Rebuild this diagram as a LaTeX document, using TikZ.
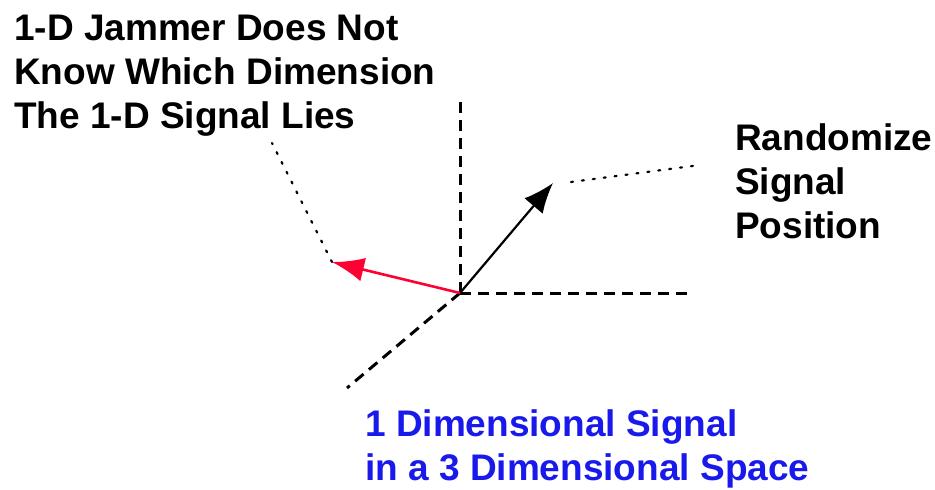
\documentclass[tikz,border=0pt]{standalone}
\usepackage{fontspec}
\setmainfont{Liberation Sans}
\usetikzlibrary{arrows.meta}
\definecolor{jamred}{RGB}{255,0,51}
\definecolor{sigblue}{RGB}{25,25,235}

\begin{document}
\begin{tikzpicture}[x=1pt,y=-1pt,
  axis/.style={line width=3pt, dash pattern=on 11pt off 7pt},
  hint/.style={line width=2.2pt, dash pattern=on 2pt off 9pt, line cap=round},
  label/.style={align=left, inner sep=0pt, anchor=north west, font=\fontsize{37}{44}\selectfont\bfseries}]
\useasboundingbox (0,0) rectangle (935,490);
% axes of the 3-D space
\coordinate (o) at (460,293);
\coordinate (up) at (460,100);
\coordinate (right) at (688,293);
\coordinate (front) at (347,388);
\draw [axis] (o) -- (up);
\draw [axis] (o) -- (right);
\draw [axis] (o) -- (front);
% signal and jammer vectors
\coordinate (sig) at (553,183);
\coordinate (jam) at (332,262);
\draw [line width=2.2pt, -{Latex[length=30pt,width=24pt]}] (o) -- (sig);
\draw [jamred, line width=2.6pt, -{Latex[length=32pt,width=24pt]}] (o) -- (jam);
% labels
\node (jamtxt) [label] at (14,15) {1-D Jammer Does Not\\Know Which Dimension\\The 1-D Signal Lies};
\node (randtxt) [label] at (735,123) {Randomize\\Signal\\Position};
\node (sigtxt) [label, text=sigblue] at (365,409) {1 Dimensional Signal\\in a 3 Dimensional Space};
\coordinate (jamend) at (272,143);
\coordinate (randend) at (700,165);
\coordinate (sigtip) at (571,182);
\draw [hint] (jam) -- (jamend);
\draw [hint] (sigtip) -- (randend);
\end{tikzpicture}
\end{document}
